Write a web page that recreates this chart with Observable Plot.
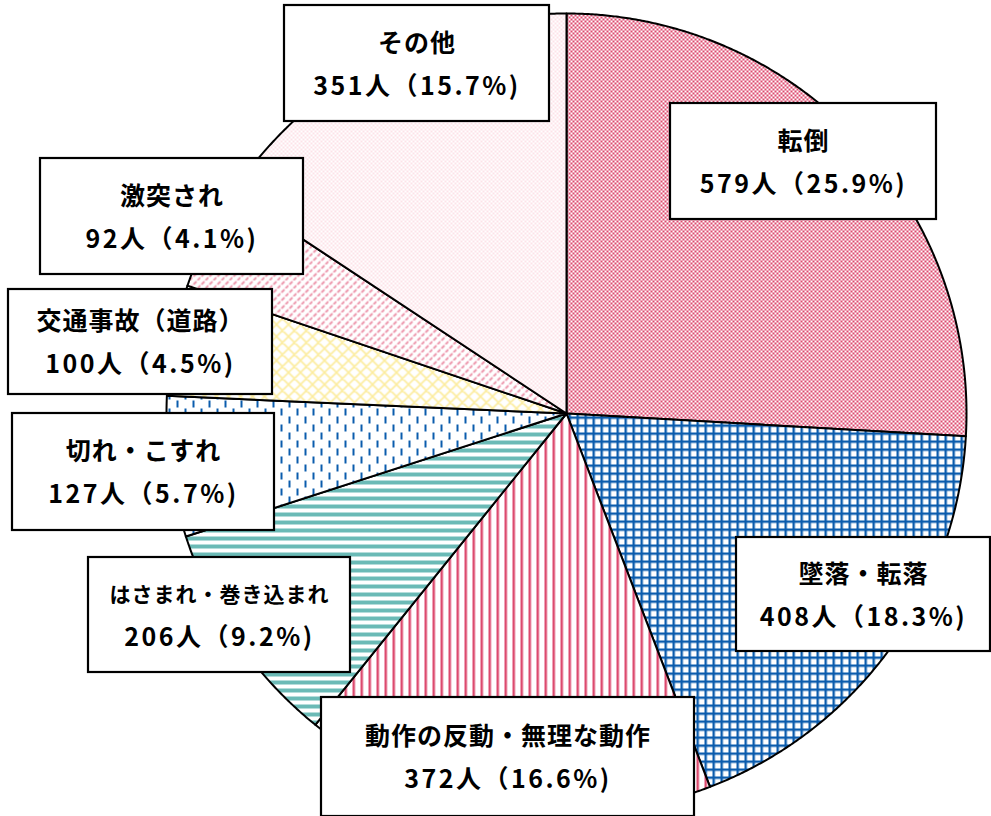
<!DOCTYPE html>
<html>
<head>
<meta charset="utf-8">
<script src="https://cdn.jsdelivr.net/npm/d3@7"></script>
<script src="https://cdn.jsdelivr.net/npm/@observablehq/plot@0.6"></script>
<style>
  html, body { margin: 0; padding: 0; background: #fff; }
</style>
</head>
<body>
<div id="chart"></div>
<script>
// ---- data ----
const categories = ["転倒", "墜落・転落", "動作の反動・無理な動作", "はさまれ・巻き込まれ", "切れ・こすれ", "交通事故（道路）", "激突され", "その他"];
const counts = [579, 408, 372, 206, 127, 100, 92, 351];
const percents = [25.9, 18.3, 16.6, 9.2, 5.7, 4.5, 4.1, 15.7];

// ---- layout (pixels) ----
const W = 991, H = 816;
const CX = 566, CY = 413, R = 400;
// label boxes: [x1, y1, x2, y2] in pixels
const labelBoxes = [
  [670, 103, 936, 219],
  [736, 537, 990, 651],
  [321, 697, 694, 816],
  [88, 557, 350, 672],
  [12, 413, 274, 530],
  [8, 289, 272, 394],
  [40, 158, 303, 274],
  [284, 5, 549, 121]
];
const titleSizes = [25, 25, 25, 21, 25, 25, 25, 25];
const patternIds = ["p0", "p1", "p2", "p3", "p4", "p5", "p6", "p7"];

// ---- build slices from data ----
const pie = d3.pie().sort(null).startAngle(0).endAngle(2 * Math.PI)(counts);
const slicePts = [];
pie.forEach((s, i) => {
  const pat = `url(#${patternIds[i]})`;
  slicePts.push({k: i, x: 0, y: 0, pat});
  const n = Math.max(4, Math.ceil((s.endAngle - s.startAngle) / 0.005));
  for (let j = 0; j <= n; j++) {
    const a = s.startAngle + (s.endAngle - s.startAngle) * j / n;
    slicePts.push({k: i, x: Math.sin(a), y: Math.cos(a), pat});
  }
  slicePts.push({k: i, x: 0, y: 0, pat});
});

const toU = px => (px - CX) / R;
const toV = py => (CY - py) / R;
const labels = categories.map((c, i) => {
  const [x1, y1, x2, y2] = labelBoxes[i];
  return {
    x1: toU(x1), x2: toU(x2), y1: toV(y1), y2: toV(y2),
    cx: toU((x1 + x2) / 2), cy: toV((y1 + y2) / 2),
    title: c, size: titleSizes[i],
    value: `${counts[i]}人（${percents[i].toFixed(1)}%)`
  };
});

const svg = Plot.plot({
  width: W,
  height: H,
  marginLeft: CX - R,
  marginRight: W - (CX + R),
  marginTop: CY - R,
  marginBottom: H - (CY + R),
  x: {domain: [-1, 1], axis: null},
  y: {domain: [-1, 1], axis: null},
  color: {type: "identity"},
  style: {fontFamily: "'Noto Sans CJK JP', sans-serif", background: "#fff"},
  marks: [
    Plot.line(slicePts, {x: "x", y: "y", z: "k", fill: "pat", stroke: "#000", strokeWidth: 2, strokeLinejoin: "round"}),
    Plot.rect(labels, {x1: "x1", x2: "x2", y1: "y1", y2: "y2", fill: "#fff", stroke: "#000", strokeWidth: 2.2, inset: 0}),
    Plot.text(labels, {x: "cx", y: "cy", dy: -20, text: "title", fontSize: "size", fontWeight: "bold", fill: "#000", className: "ttl"}),
    Plot.text(labels, {x: "cx", y: "cy", dy: 23, text: "value", fontSize: 25, fontWeight: "bold", fill: "#000", className: "val"})
  ]
});
d3.select(svg).selectAll(".ttl text").style("letter-spacing", "1px");
d3.select(svg).selectAll(".val text").style("letter-spacing", "2.5px");

// pattern definitions
const defs = d3.select(svg).insert("defs", ":first-child");
function pat(id, w, h) {
  const p = defs.append("pattern").attr("id", id).attr("patternUnits", "userSpaceOnUse")
    .attr("width", w).attr("height", h);
  p.append("rect").attr("width", w).attr("height", h).attr("fill", "#fff");
  return p;
}
const crimson = "#dc4a6e", blue = "#0b5cad", teal = "#6bbab6";
// 転倒: crimson checker
let p = pat("p0", 4, 4);
p.append("rect").attr("x", 0).attr("y", 0).attr("width", 2).attr("height", 2).attr("fill", crimson);
p.append("rect").attr("x", 2).attr("y", 2).attr("width", 2).attr("height", 2).attr("fill", crimson);
// 墜落: blue grid
p = pat("p1", 8, 8);
p.append("rect").attr("width", 8).attr("height", 2.4).attr("fill", blue);
p.append("rect").attr("width", 2.4).attr("height", 8).attr("fill", blue);
// 動作: vertical crimson
p = pat("p2", 8, 8);
p.append("rect").attr("width", 2.5).attr("height", 8).attr("fill", crimson);
// はさまれ: horizontal teal
p = pat("p3", 8, 8);
p.append("rect").attr("width", 8).attr("height", 4).attr("fill", teal);
// 切れ: staggered blue dashes
p = pat("p4", 16, 16);
p.append("rect").attr("x", 0).attr("y", 0).attr("width", 2).attr("height", 7).attr("fill", blue);
p.append("rect").attr("x", 8).attr("y", 8).attr("width", 2).attr("height", 7).attr("fill", blue);
// 交通事故: pale yellow lattice
p = pat("p5", 12, 12);
p.append("path").attr("d", "M0,0L12,12M12,0L0,12M-6,6L0,12M6,-6L12,0M-6,6L0,0M12,12L18,6")
  .attr("stroke", "#fcec9e").attr("stroke-width", 1.6).attr("fill", "none");
// 激突され: pink diagonal dashes
p = pat("p6", 8, 8);
p.append("path").attr("d", "M1,4L4,1M5,8L8,5")
  .attr("stroke", "#ec94aa").attr("stroke-width", 1.8).attr("fill", "none");
// その他: faint pink checker
p = pat("p7", 4, 4);
p.append("rect").attr("x", 0).attr("y", 0).attr("width", 2).attr("height", 2).attr("fill", "#fde2e8");
p.append("rect").attr("x", 2).attr("y", 2).attr("width", 2).attr("height", 2).attr("fill", "#fde2e8");

document.getElementById("chart").appendChild(svg);
</script>
</body>
</html>
